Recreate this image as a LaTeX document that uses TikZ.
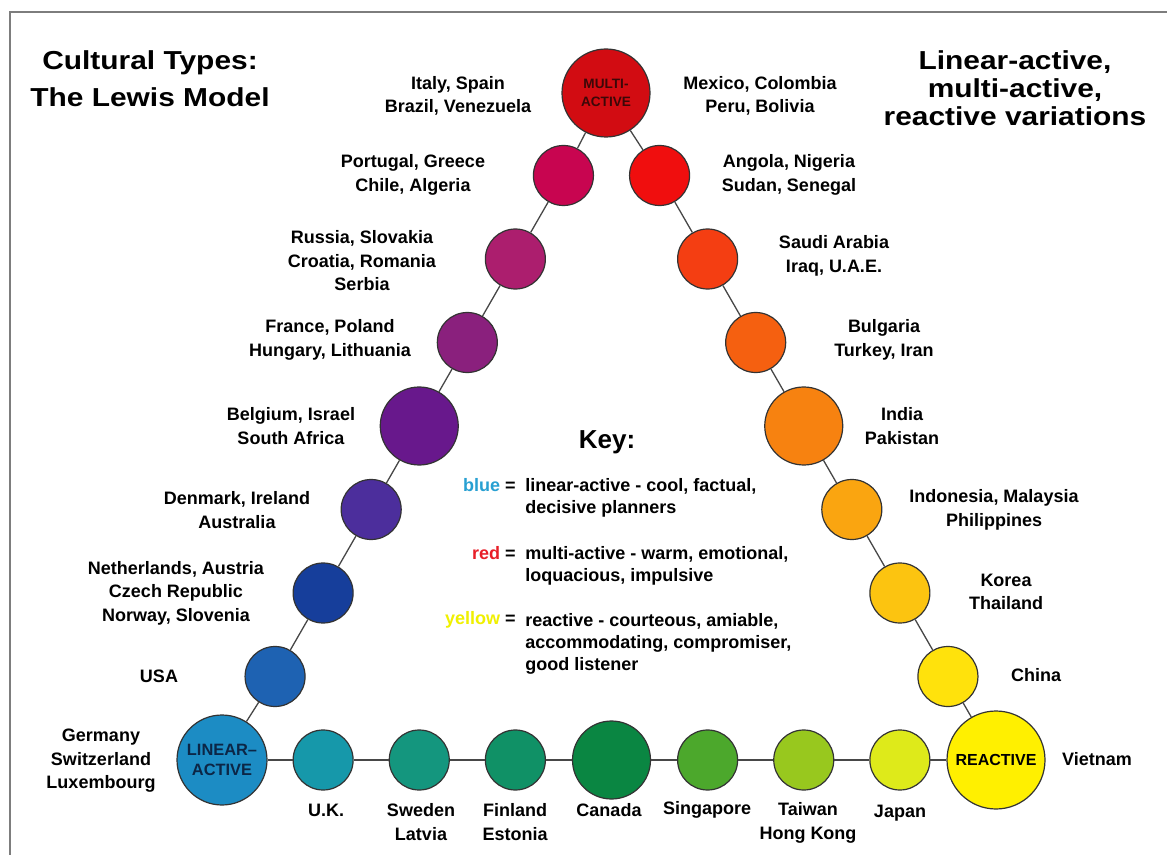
\documentclass[tikz,border=0pt]{standalone}
\usepackage{fontspec}
\setmainfont{Liberation Sans}
\usetikzlibrary{calc}

% circle fills, red corner -> blue corner -> yellow corner
\definecolor{cMulti}{RGB}{210,12,18}
\definecolor{cLa}{RGB}{200,5,80}
\definecolor{cLb}{RGB}{172,30,110}
\definecolor{cLc}{RGB}{138,32,125}
\definecolor{cLd}{RGB}{104,24,140}
\definecolor{cLe}{RGB}{76,46,156}
\definecolor{cLf}{RGB}{22,62,155}
\definecolor{cLg}{RGB}{30,98,178}
\definecolor{cLinear}{RGB}{28,140,196}
\definecolor{cBa}{RGB}{22,152,170}
\definecolor{cBb}{RGB}{20,150,126}
\definecolor{cBc}{RGB}{16,145,102}
\definecolor{cBd}{RGB}{10,134,66}
\definecolor{cBe}{RGB}{76,168,44}
\definecolor{cBf}{RGB}{152,200,30}
\definecolor{cBg}{RGB}{222,234,26}
\definecolor{cReactive}{RGB}{255,240,0}
\definecolor{cRa}{RGB}{240,14,14}
\definecolor{cRb}{RGB}{244,62,18}
\definecolor{cRc}{RGB}{245,96,16}
\definecolor{cRd}{RGB}{247,130,16}
\definecolor{cRe}{RGB}{250,165,16}
\definecolor{cRf}{RGB}{252,196,16}
\definecolor{cRg}{RGB}{255,226,12}
\definecolor{keyblue}{RGB}{40,160,210}
\definecolor{keyred}{RGB}{232,30,40}
\definecolor{keyyellow}{RGB}{240,240,0}
\definecolor{framegray}{RGB}{125,125,125}
\definecolor{linearink}{RGB}{12,38,70}
\definecolor{multiink}{RGB}{60,8,8}

\newcommand\lewislab{\fontsize{9}{11.75}\selectfont\bfseries}
\newcommand\lewistitle{\fontsize{13}{18.5}\selectfont\bfseries\addfontfeatures{FakeStretch=1.15}}
\newcommand\lewistitleR{\fontsize{13}{14}\selectfont\bfseries\addfontfeatures{FakeStretch=1.15}}

\begin{document}
\begin{tikzpicture}[x=0.5pt,y=-0.5pt,
  ball/.style={circle, draw=black!80, line width=0.6pt, inner sep=0pt,
               minimum size=30pt, fill=#1},
  midball/.style={ball=#1, minimum size=39pt},
  conn/.style={draw=black!72, line width=0.65pt},
  lab/.style={font=\lewislab, align=center, inner sep=0pt},
  keytext/.style={font=\fontsize{9}{11}\selectfont\bfseries, align=left, inner sep=0pt}]

\useasboundingbox[fill=white] (0,0) rectangle (1167,855);
\draw[framegray, line width=1pt] (10,855) -- (10,12) -- (1167,12);

% triangle corners (the arms are spaced evenly between them)
\coordinate (T) at (611.5,92);
\coordinate (L) at (227,760);
\coordinate (R) at (996,760);

% corner circles
\node[ball=cMulti, minimum size=44pt, text=multiink, font=\fontsize{6.8}{8.8}\selectfont\bfseries, align=center]
  (multi) at (606,93) {MULTI-\\ACTIVE};
\node[ball=cLinear, minimum size=45pt, text=linearink, font=\fontsize{8.2}{10}\selectfont\bfseries, align=center]
  (linear) at (222,760) {LINEAR--\\ACTIVE};
\node[ball=cReactive, minimum size=49pt, font=\fontsize{8}{9}\selectfont\bfseries]
  (reactive) at (R) {REACTIVE};

% left side: multi-active -> linear-active
\node[ball=cLa]    (la) at ($(T)!0.125!(L)$) {};
\node[ball=cLb]    (lb) at ($(T)!0.25!(L)$) {};
\node[ball=cLc]    (lc) at ($(T)!0.375!(L)$) {};
\node[midball=cLd] (ld) at ($(T)!0.5!(L)$) {};
\node[ball=cLe]    (le) at ($(T)!0.625!(L)$) {};
\node[ball=cLf]    (lf) at ($(T)!0.75!(L)$) {};
\node[ball=cLg]    (lg) at ($(T)!0.875!(L)$) {};

% right side: multi-active -> reactive
\node[ball=cRa]    (ra) at ($(T)!0.125!(R)$) {};
\node[ball=cRb]    (rb) at ($(T)!0.25!(R)$) {};
\node[ball=cRc]    (rc) at ($(T)!0.375!(R)$) {};
\node[midball=cRd] (rd) at ($(T)!0.5!(R)$) {};
\node[ball=cRe]    (re) at ($(T)!0.625!(R)$) {};
\node[ball=cRf]    (rf) at ($(T)!0.75!(R)$) {};
\node[ball=cRg]    (rg) at ($(T)!0.875!(R)$) {};

% bottom: linear-active -> reactive
\node[ball=cBa]    (ba) at ($(L)!0.125!(R)$) {};
\node[ball=cBb]    (bb) at ($(L)!0.25!(R)$) {};
\node[ball=cBc]    (bc) at ($(L)!0.375!(R)$) {};
\node[midball=cBd] (bd) at ($(L)!0.5!(R)$) {};
\node[ball=cBe]    (be) at ($(L)!0.625!(R)$) {};
\node[ball=cBf]    (bf) at ($(L)!0.75!(R)$) {};
\node[ball=cBg]    (bg) at ($(L)!0.875!(R)$) {};

% connectors
\draw[conn] (multi) -- (la) -- (lb) -- (lc) -- (ld) -- (le) -- (lf) -- (lg) -- (linear);
\draw[conn] (multi) -- (ra) -- (rb) -- (rc) -- (rd) -- (re) -- (rf) -- (rg) -- (reactive);
\draw[conn] (linear) -- (ba) -- (bb) -- (bc) -- (bd) -- (be) -- (bf) -- (bg) -- (reactive);

% titles
\node[font=\lewistitle, align=center] (titleL) at (150,79) {Cultural Types:\\The Lewis Model};
\node[font=\lewistitleR, align=center] (titleR) at (1015,88) {Linear-active,\\multi-active,\\reactive variations};

% country labels, left side
\node[lab] (tla0) at (458,96)  {Italy, Spain\\Brazil, Venezuela};
\node[lab] (tla)  at (413,175) {Portugal, Greece\\Chile, Algeria};
\node[lab] (tlb)  at (362,261) {Russia, Slovakia\\Croatia, Romania\\Serbia};
\node[lab] (tlc)  at (330,340) {France, Poland\\Hungary, Lithuania};
\node[lab] (tld)  at (291,426) {Belgium, Israel\\South Africa};
\node[lab] (tle)  at (237,510) {Denmark, Ireland\\Australia};
\node[lab] (tlf)  at (176,593) {Netherlands, Austria\\Czech Republic\\Norway, Slovenia};
\node[lab] (tlg)  at (159,676) {USA};
\node[lab] (tlin) at (101,761) {Germany\\Switzerland\\Luxembourg};

% country labels, right side
\node[lab] (tra0) at (760,96)  {Mexico, Colombia\\Peru, Bolivia};
\node[lab] (tra)  at (789,175) {Angola, Nigeria\\Sudan, Senegal};
\node[lab] (trb)  at (834,256) {Saudi Arabia\\Iraq, U.A.E.};
\node[lab] (trc)  at (884,340) {Bulgaria\\Turkey, Iran};
\node[lab] (trd)  at (902,426) {India\\Pakistan};
\node[lab] (tre)  at (994,510) {Indonesia, Malaysia\\Philippines};
\node[lab] (trf)  at (1006,592) {Korea\\Thailand};
\node[lab] (trg)  at (1036,675) {China};
\node[lab] (trea) at (1097,759) {Vietnam};

% country labels, bottom
\node[lab] (tba) at (326,810) {U.K.};
\node[lab] (tbb) at (421,822) {Sweden\\Latvia};
\node[lab] (tbc) at (515,822) {Finland\\Estonia};
\node[lab] (tbd) at (609,810) {Canada};
\node[lab] (tbe) at (707,810) {Singapore};
\node[lab] (tbf) at (808,823) {Taiwan\\Hong Kong};
\node[lab] (tbg) at (900,813) {Japan};

% key
\node[font=\fontsize{13}{15}\selectfont\bfseries] (key) at (607,442) {Key:};
\node[keytext, anchor=east] (kb) at (516,485) {\textcolor{keyblue}{blue} =};
\node[keytext, anchor=north west] (kbt) at (525,478) {linear-active - cool, factual,\\decisive planners};
\node[keytext, anchor=east] (kr) at (516,553) {\textcolor{keyred}{red} =};
\node[keytext, anchor=north west] (krt) at (525,546) {multi-active - warm, emotional,\\loquacious, impulsive};
\node[keytext, anchor=east] (ky) at (516,620) {\textcolor{keyyellow}{yellow} =};
\node[keytext, anchor=north west] (kyt) at (525,613) {reactive - courteous, amiable,\\accommodating, compromiser,\\good listener};
\end{tikzpicture}
\end{document}
